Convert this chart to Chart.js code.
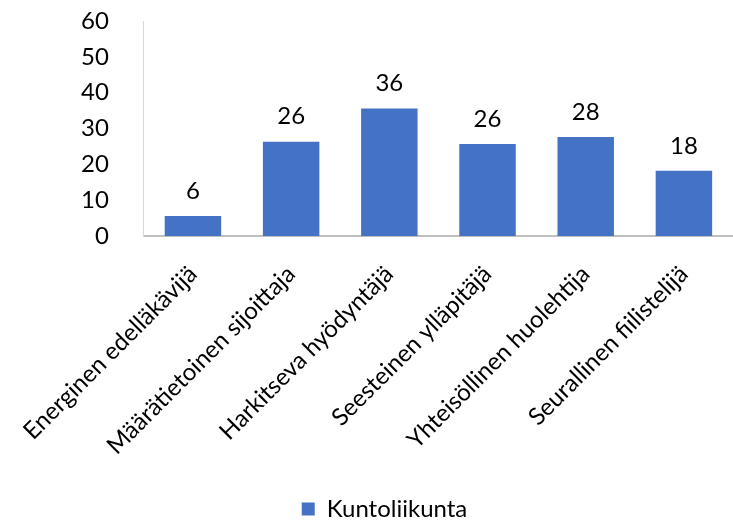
<!DOCTYPE html>
<html>
<head>
<meta charset="utf-8">
<script src="https://cdn.jsdelivr.net/npm/chart.js@4/dist/chart.umd.min.js"></script>
<style>
  html, body { margin: 0; padding: 0; background: #fff; }
  #wrap { width: 733px; height: 520px; }
</style>
</head>
<body>
<div id="wrap"><canvas id="chart"></canvas></div>
<script>
// Data
const categories = [
  "Energinen edelläkävijä",
  "Määrätietoinen sijoittaja",
  "Harkitseva hyödyntäjä",
  "Seesteinen ylläpitäjä",
  "Yhteisöllinen huolehtija",
  "Seurallinen fiilistelijä"
];
const seriesName = "Kuntoliikunta";
const values = [5.6, 26.3, 35.6, 25.7, 27.6, 18.2];
const yTicks = [0, 10, 20, 30, 40, 50, 60];

const FONT = "Lato, 'Open Sans', sans-serif";
const FS = 24;

// value labels above the bars (rounded like in the original)
const barLabels = {
  id: 'barLabels',
  afterDatasetsDraw(chart) {
    const ctx = chart.ctx;
    ctx.save();
    ctx.font = FS + "px " + FONT;
    ctx.fillStyle = '#000';
    ctx.textAlign = 'center';
    ctx.textBaseline = 'middle';
    chart.getDatasetMeta(0).data.forEach((bar, i) => {
      ctx.fillText(Math.round(values[i]), bar.x, bar.y - 25);
    });
    ctx.restore();
  }
};

new Chart(document.getElementById('chart'), {
  type: 'bar',
  data: {
    labels: categories,
    datasets: [{
      label: seriesName,
      data: values,
      backgroundColor: '#4472C4',
      borderWidth: 0,
      categoryPercentage: 1,
      barPercentage: 0.575
    }]
  },
  options: {
    responsive: true,
    maintainAspectRatio: false,
    animation: false,
    layout: { padding: { left: 36, right: 0, top: 0, bottom: -11 } },
    plugins: {
      legend: {
        position: 'bottom',
        labels: {
          color: '#000',
          font: { family: FONT, size: FS },
          boxWidth: 13,
          boxHeight: 13,
          padding: 2
        }
      },
      tooltip: { enabled: false }
    },
    scales: {
      x: {
        grid: { display: false },
        border: { display: true, color: '#bfbfbf', width: 2 },
        ticks: {
          color: '#000',
          font: { family: FONT, size: FS },
          minRotation: 45,
          maxRotation: 45,
          autoSkip: false,
          padding: 16
        },
        afterFit(axis) { axis.height = 259; }
      },
      y: {
        min: 0,
        max: 60,
        afterBuildTicks(axis) { axis.ticks = yTicks.map(v => ({ value: v })); },
        grid: { display: false },
        border: { display: true, color: '#d9d9d9', width: 1 },
        ticks: {
          color: '#000',
          font: { family: FONT, size: FS },
          padding: 27
        },
        afterFit(axis) {
          axis.width = 105;
          axis.paddingTop = 21;
          axis.paddingBottom = 10;
        }
      }
    }
  },
  plugins: [barLabels]
});
</script>
</body>
</html>
